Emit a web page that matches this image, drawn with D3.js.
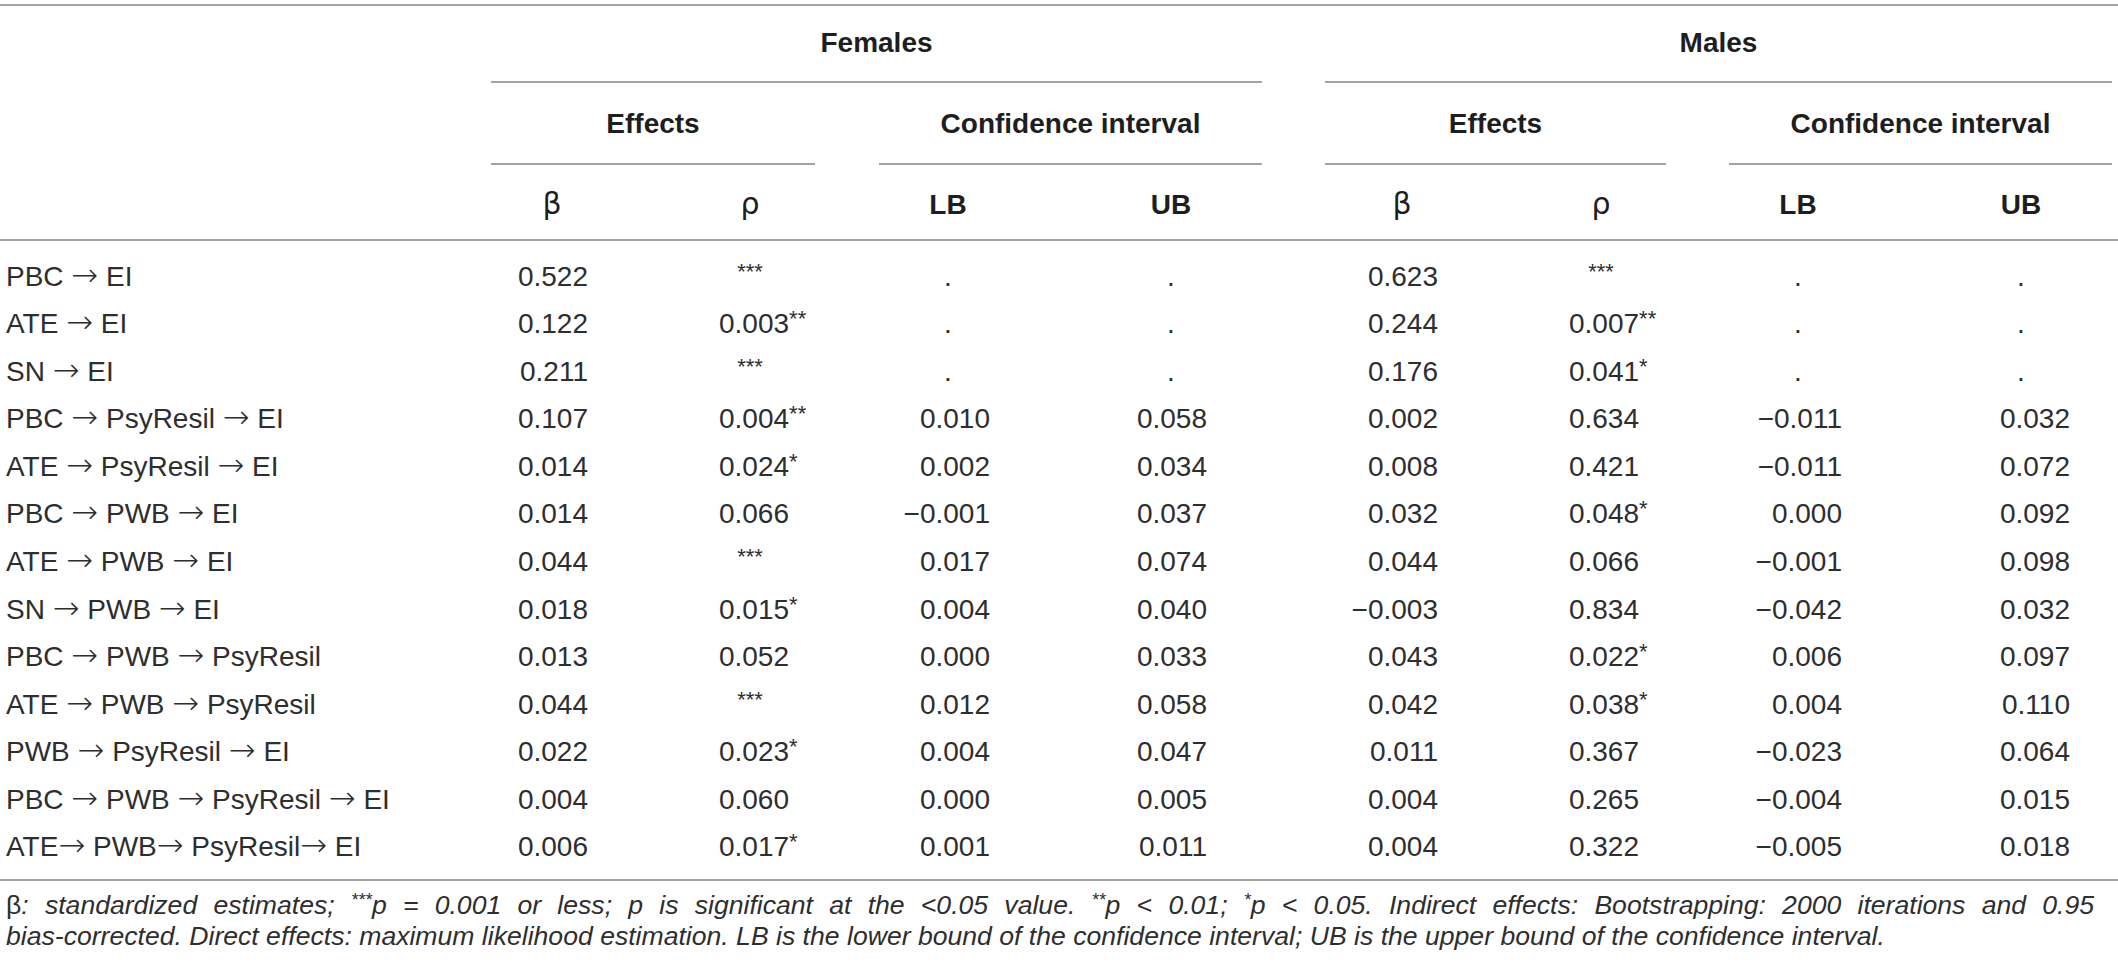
<!DOCTYPE html>
<html>
<head>
<meta charset="utf-8">
<script src="https://cdn.jsdelivr.net/npm/d3@7"></script>
<style>
  body { margin: 0; background: #fff; }
  svg { display: block; font-family: "Liberation Sans", Arial, sans-serif; }
</style>
</head>
<body>
<div id="table"></div>
<script>
const rowLabels = [
    "PBC \u2192 EI",
    "ATE \u2192 EI",
    "SN \u2192 EI",
    "PBC \u2192 PsyResil \u2192 EI",
    "ATE \u2192 PsyResil \u2192 EI",
    "PBC \u2192 PWB \u2192 EI",
    "ATE \u2192 PWB \u2192 EI",
    "SN \u2192 PWB \u2192 EI",
    "PBC \u2192 PWB \u2192 PsyResil",
    "ATE \u2192 PWB \u2192 PsyResil",
    "PWB \u2192 PsyResil \u2192 EI",
    "PBC \u2192 PWB \u2192 PsyResil \u2192 EI",
    "ATE\u2192 PWB\u2192 PsyResil\u2192 EI"
];

// null = "." (not reported)
const femBeta = [0.522, 0.122, 0.211, 0.107, 0.014, 0.014, 0.044, 0.018, 0.013, 0.044, 0.022, 0.004, 0.006];
const femP    = [null, 0.003, null, 0.004, 0.024, 0.066, null, 0.015, 0.052, null, 0.023, 0.060, 0.017];
const femSig  = ["***", "**", "***", "**", "*", "", "***", "*", "", "***", "*", "", "*"];
const femLB   = [null, null, null, 0.010, 0.002, -0.001, 0.017, 0.004, 0.000, 0.012, 0.004, 0.000, 0.001];
const femUB   = [null, null, null, 0.058, 0.034, 0.037, 0.074, 0.040, 0.033, 0.058, 0.047, 0.005, 0.011];

const maleBeta = [0.623, 0.244, 0.176, 0.002, 0.008, 0.032, 0.044, -0.003, 0.043, 0.042, 0.011, 0.004, 0.004];
const maleP    = [null, 0.007, 0.041, 0.634, 0.421, 0.048, 0.066, 0.834, 0.022, 0.038, 0.367, 0.265, 0.322];
const maleSig  = ["***", "**", "*", "", "", "*", "", "", "*", "*", "", "", ""];
const maleLB   = [null, null, null, -0.011, -0.011, 0.000, -0.001, -0.042, 0.006, 0.004, -0.023, -0.004, -0.005];
const maleUB   = [null, null, null, 0.032, 0.072, 0.092, 0.098, 0.032, 0.097, 0.110, 0.064, 0.015, 0.018];

const groupNames = ["Females", "Males"];
const subNames = ["Effects", "Confidence interval"];
const colNames = ["\u03b2", "\u03c1", "LB", "UB", "\u03b2", "\u03c1", "LB", "UB"];

const footLine1 = [
    { t: "\u03b2", upright: true }, { t: ": standardized estimates; " }, { t: "***", sup: true },
    { t: "p = 0.001 or less; p is significant at the <0.05 value. " }, { t: "**", sup: true },
    { t: "p < 0.01; " }, { t: "*", sup: true },
    { t: "p < 0.05. Indirect effects: Bootstrapping: 2000 iterations and 0.95" }
];
const footLine2 = "bias-corrected. Direct effects: maximum likelihood estimation. LB is the lower bound of the confidence interval; UB is the upper bound of the confidence interval.";

// ---- layout ----
const W = 2118, H = 965;
const lineColor = "#a3a3a3";
const textColor = "#2e2e2e";
const fmt = d3.format(".3f");

// column centres and right edges of the numbers
const colCenter = [552, 750, 948, 1171, 1402, 1601, 1798, 2021];
const numEnd    = [588, 789, 990, 1207, 1438, 1639, 1842, 2070];
const groupSpan = [[491, 1262], [1325, 2112]];
const subSpan = [[491, 815], [879, 1262], [1325, 1666], [1729, 2112]];

const columns = [femBeta, femP, femLB, femUB, maleBeta, maleP, maleLB, maleUB];
const sigs = [null, femSig, null, null, null, maleSig, null, null];

const svg = d3.select("#table").append("svg")
    .attr("width", W).attr("height", H)
    .attr("viewBox", `0 0 ${W} ${H}`);

const y = d3.scaleBand()
    .domain(d3.range(rowLabels.length))
    .range([252, 870]);

const x = d3.scaleOrdinal()
    .domain(d3.range(colNames.length))
    .range(colCenter);

function hline(x1, x2, yy) {
    svg.append("line")
        .attr("x1", x1).attr("x2", x2)
        .attr("y1", yy).attr("y2", yy)
        .attr("stroke", lineColor).attr("stroke-width", 2);
}

// rules
hline(0, W, 5);
groupSpan.forEach(s => hline(s[0], s[1], 82));
subSpan.forEach(s => hline(s[0], s[1], 164));
hline(0, W, 240);
hline(0, W, 880);

// header text
svg.selectAll(".group")
    .data(groupNames)
    .enter().append("text")
    .attr("x", (d, i) => (groupSpan[i][0] + groupSpan[i][1]) / 2)
    .attr("y", 52)
    .attr("text-anchor", "middle")
    .style("font-size", "28px").style("font-weight", "bold")
    .attr("fill", "#1e1e1e")
    .text(d => d);

svg.selectAll(".sub")
    .data(subSpan)
    .enter().append("text")
    .attr("x", d => (d[0] + d[1]) / 2)
    .attr("y", 133)
    .attr("text-anchor", "middle")
    .style("font-size", "28px").style("font-weight", "bold")
    .attr("fill", "#1e1e1e")
    .text((d, i) => subNames[i % 2]);

svg.selectAll(".colname")
    .data(colNames)
    .enter().append("text")
    .attr("x", (d, i) => x(i))
    .attr("y", 214)
    .attr("text-anchor", "middle")
    .style("font-size", d => (d === "LB" || d === "UB") ? "28px" : "30px")
    .style("font-weight", d => (d === "LB" || d === "UB") ? "bold" : "normal")
    .style("font-family", d => (d === "LB" || d === "UB") ? null : "'DejaVu Sans', sans-serif")
    .attr("fill", "#1e1e1e")
    .text(d => d);

// body rows
const baseline = i => y(i) + y.bandwidth() / 2 + 10;

const labels = svg.selectAll(".rowlabel")
    .data(rowLabels)
    .enter().append("text")
    .attr("x", 6)
    .attr("y", (d, i) => baseline(i))
    .style("font-size", "28px")
    .attr("fill", textColor);

// draw the arrows a little longer, like the typeset ones
labels.each(function (d) {
    const el = d3.select(this);
    d.split("\u2192").forEach((part, k) => {
        if (k > 0) {
            el.append("tspan")
                .style("font-family", "'DejaVu Sans', sans-serif")
                .style("font-weight", 200)
                .style("font-size", "32px")
                .text("\u2192");
        }
        el.append("tspan").text(part);
    });
});

columns.forEach((vals, c) => {
    const sig = sigs[c];
    vals.forEach((v, r) => {
        const t = svg.append("text")
            .attr("y", baseline(r))
            .style("font-size", "28px")
            .attr("fill", textColor);
        if (v === null && sig && sig[r]) {
            // only stars
            t.attr("x", x(c)).attr("text-anchor", "middle")
                .append("tspan")
                .attr("dy", -7)
                .style("font-size", "22px")
                .text(sig[r]);
        } else if (v === null) {
            t.attr("x", x(c)).attr("text-anchor", "middle").text(".");
        } else {
            t.attr("x", numEnd[c]).attr("text-anchor", "end")
                .append("tspan").text(fmt(v));
            if (sig && sig[r]) {
                // keep the number in place, hang the stars after it
                t.attr("x", numEnd[c] - 70).attr("text-anchor", "start");
                t.append("tspan").attr("dy", -7).style("font-size", "22px").text(sig[r]);
            }
        }
    });
});

// footnote
const footSize = 26.6;
const f1 = svg.append("text")
    .attr("x", 6).attr("y", 914)
    .style("font-size", footSize + "px")
    .style("font-style", "italic")
    .attr("fill", textColor);
footLine1.forEach((p, i) => {
    const ts = f1.append("tspan").text(p.t);
    if (p.upright) ts.style("font-style", "normal");
    if (p.sup) ts.style("font-size", "18px").attr("dy", -8);
    else if (i > 0 && footLine1[i - 1].sup) ts.attr("dy", 8);
});
// justify the first line by widening the spaces
const natural = f1.node().getComputedTextLength();
const spaces = footLine1.map(p => p.t).join("").split(" ").length - 1;
f1.style("word-spacing", Math.max(0, (2094 - 6 - natural) / spaces) + "px");

svg.append("text")
    .attr("x", 6).attr("y", 945)
    .style("font-size", footSize + "px")
    .style("font-style", "italic")
    .attr("fill", textColor)
    .text(footLine2);
</script>
</body>
</html>
